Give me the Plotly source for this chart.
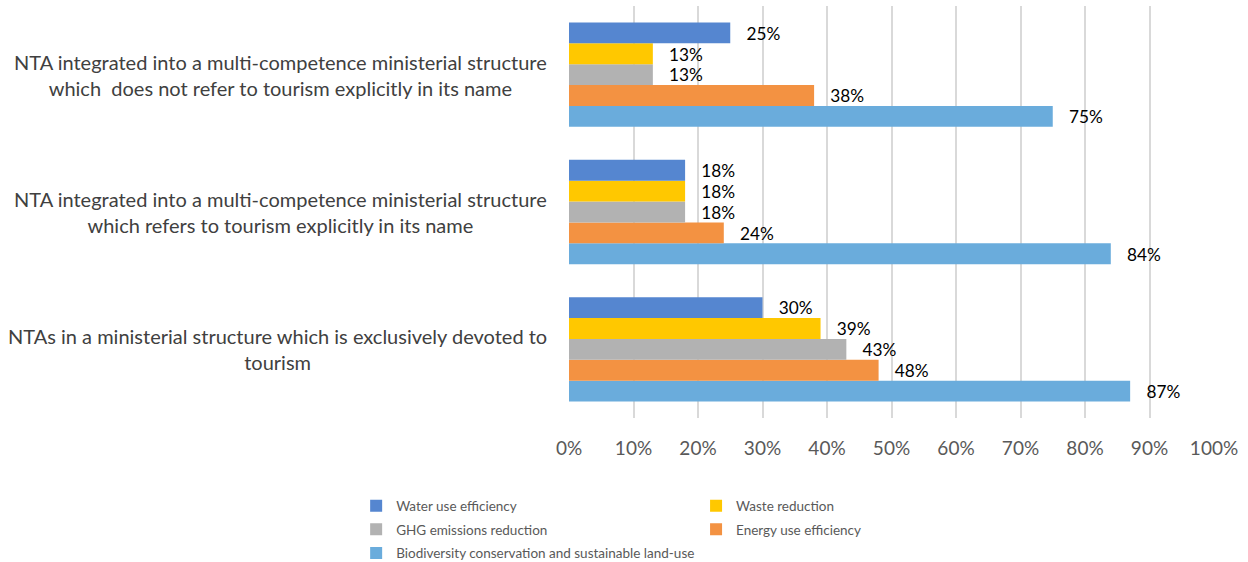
import plotly.graph_objects as go

categories = [
    "NTAs in a ministerial structure which is exclusively devoted to<br>tourism",
    "NTA integrated into a multi-competence ministerial structure<br>which refers to tourism explicitly in its name",
    "NTA integrated into a multi-competence ministerial structure<br>which  does not refer to tourism explicitly in its name",
]

water_use = [0.30, 0.18, 0.25]
waste_reduction = [0.39, 0.18, 0.13]
ghg_reduction = [0.43, 0.18, 0.13]
energy_use = [0.48, 0.24, 0.38]
biodiversity = [0.87, 0.84, 0.75]

x_ticks = [0, 0.1, 0.2, 0.3, 0.4, 0.5, 0.6, 0.7, 0.8, 0.9, 1.0]

# drawn bottom-to-top inside each group; legend column and rank set the key layout
series = [
    ("Biodiversity conservation and sustainable land-use", biodiversity, "#6AACDC", "legend", 3),
    ("Energy use efficiency", energy_use, "#F39242", "legend2", 2),
    ("GHG emissions reduction", ghg_reduction, "#B2B2B2", "legend", 2),
    ("Waste reduction", waste_reduction, "#FFC800", "legend2", 1),
    ("Water use efficiency", water_use, "#5586D0", "legend", 1),
]

FONT = "Lato, 'Open Sans', sans-serif"

fig = go.Figure()
for name, vals, color, leg, rank in series:
    fig.add_trace(go.Bar(
        y=list(range(len(categories))),
        x=vals,
        orientation="h",
        name=name,
        marker=dict(color=color, line=dict(width=0)),
        text=["\u00a0\u00a0\u00a0" + f"{v:.0%}" for v in vals],
        textposition="outside",
        textfont=dict(family=FONT, size=19, color="#000000"),
        cliponaxis=False,
        legend=leg,
        legendgroup=name,
        legendrank=rank,
    ))

for i, label in enumerate(categories):
    fig.add_annotation(
        x=-0.031, xref="paper", xanchor="right",
        y=i, yref="y",
        text=label, showarrow=False, align="center",
        font=dict(family=FONT, size=20, color="#404040"),
    )

legend_style = dict(
    orientation="v", xanchor="left", yanchor="top", y=-0.176,
    font=dict(family=FONT, size=13.5, color="#595959"),
    itemwidth=30, tracegroupgap=3, bgcolor="rgba(0,0,0,0)",
)

fig.update_layout(
    width=1248, height=562,
    margin=dict(l=569, r=34, t=6, b=144, autoexpand=False),
    paper_bgcolor="white", plot_bgcolor="white",
    barmode="group", bargap=0.24, bargroupgap=0,
    showlegend=True,
    legend=dict(x=-0.330, **legend_style),
    legend2=dict(x=0.197, **legend_style),
    xaxis=dict(
        range=[0, 1.0], tickvals=x_ticks, tickformat=".0%",
        showgrid=True, gridcolor="#D9D9D9", gridwidth=2,
        zeroline=False, showline=False,
        tickfont=dict(family=FONT, size=19, color="#595959"),
        ticks="", ticklabelstandoff=17,
    ),
    yaxis=dict(
        range=[-0.5, 2.5], showticklabels=False, showgrid=False,
        zeroline=False, showline=False, ticks="",
    ),
)

fig.write_html("out.html")
